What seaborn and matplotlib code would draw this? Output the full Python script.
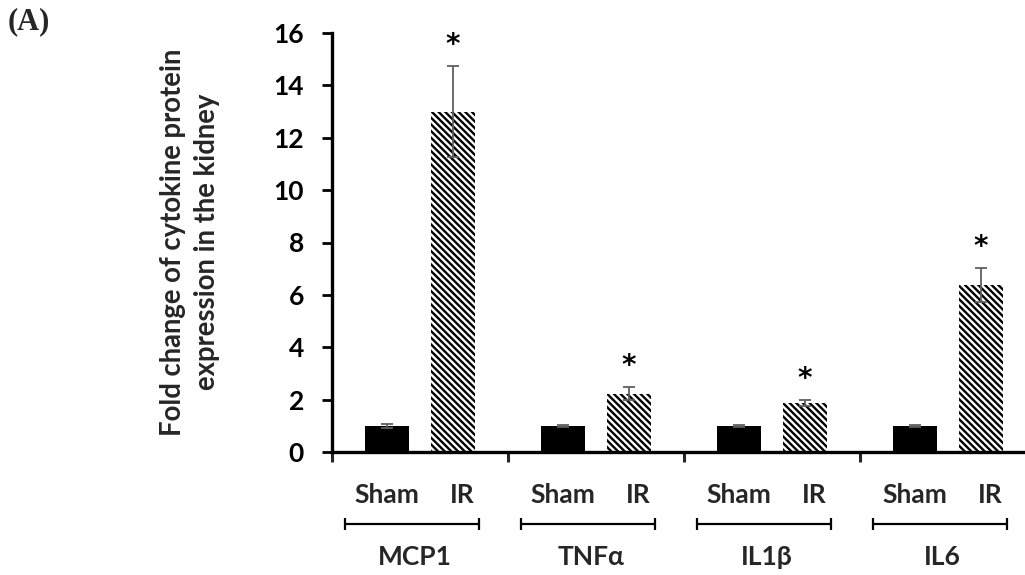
import matplotlib
matplotlib.use("Agg")
import matplotlib.pyplot as plt
import matplotlib.transforms as mtransforms
import numpy as np
import pandas as pd
import seaborn as sns

# ---- data ----
cytokines = ["MCP1", "TNFα", "IL1β", "IL6"]
groups = ["Sham", "IR"]
sham_mean = [1.0, 1.0, 1.0, 1.0]
sham_sem = [0.07, 0.03, 0.03, 0.05]
ir_mean = [13.0, 2.22, 1.86, 6.38]
ir_sem = [1.75, 0.25, 0.12, 0.65]
significant = [True, True, True, True]
y_ticks = [0, 2, 4, 6, 8, 10, 12, 14, 16]
y_label = "Fold change of cytokine protein\nexpression in the kidney"
panel_label = "(A)"

df = pd.DataFrame({
    "cytokine": cytokines * 2,
    "group": ["Sham"] * 4 + ["IR"] * 4,
    "value": sham_mean + ir_mean,
    "sem": sham_sem + ir_sem,
})

sns.set_style("white")
plt.rcParams["font.family"] = ["Lato", "DejaVu Sans"]
plt.rcParams["font.weight"] = "bold"
plt.rcParams["hatch.linewidth"] = 1.7

fig = plt.figure(figsize=(10.25, 5.75), dpi=100)
W, H = 1025, 575
ax = fig.add_axes([332 / W, (H - 452) / H, 704 / W, (452 - 33) / H])

sns.barplot(data=df, x="cytokine", y="value", hue="group", hue_order=groups,
            order=cytokines, palette={"Sham": "black", "IR": "white"},
            width=0.75, gap=1 / 3, errorbar=None, legend=False,
            saturation=1, ax=ax, linewidth=0)

bars = ax.patches
n = len(cytokines)
for i, bar in enumerate(bars[:2 * n]):
    if i >= n:
        bar.set_hatch("\\" * 5)
        bar.set_edgecolor("black")
        bar.set_linewidth(0)

# error bars + asterisks
for i, bar in enumerate(bars[:2 * n]):
    xc = bar.get_x() + bar.get_width() / 2
    yv = bar.get_height()
    err = df["sem"].iloc[i]
    ax.errorbar(xc, yv, yerr=err, fmt="none", ecolor="#5f5f5f",
                elinewidth=1.3, capsize=4.5, capthick=1.3, zorder=5)
    if i >= n and significant[i - n]:
        ax.annotate("*", xy=(xc, yv + err), xytext=(0, 5),
                    textcoords="offset points", ha="center", va="bottom",
                    fontsize=20, fontweight="bold", color="black",
                    family="DejaVu Sans")

ax.set_xlim(-0.5, 3.5)
ax.set_ylim(0, 16)
ax.set_yticks(y_ticks)
ax.set_yticklabels([str(t) for t in y_ticks], fontsize=19, fontweight="bold")
ax.set_xticks([-0.5, 0.5, 1.5, 2.5, 3.5])
ax.set_xticklabels([])
ax.set_xlabel("")
ax.set_ylabel("")
ax.tick_params(axis="y", direction="out", length=7.2, width=2, pad=13,
               left=True, colors="black")
ax.tick_params(axis="x", direction="out", length=7.2, width=2.2,
               bottom=True)
for s in ["top", "right"]:
    ax.spines[s].set_visible(False)
for s in ["left", "bottom"]:
    ax.spines[s].set_linewidth(2.4)
    ax.spines[s].set_color("black")

# category labels below axis
blend = mtransforms.blended_transform_factory(ax.transData, fig.transFigure)
for g in range(n):
    ax.text(g - 0.19, (H - 495) / H, "Sham", transform=blend, ha="center",
            va="center", fontsize=19, fontweight="bold")
    ax.text(g + 0.24, (H - 495) / H, "IR", transform=blend, ha="center",
            va="center", fontsize=19, fontweight="bold")
    ax.plot([g - 0.426, g + 0.335], [(H - 524) / H] * 2, transform=blend,
            color="black", lw=1.6, marker="|", ms=8, mew=1.6, clip_on=False)
    ax.text(g - 0.03, (H - 557) / H, cytokines[g], transform=blend,
            ha="center", va="center", fontsize=19, fontweight="bold")

fig.text(190 / W, (H - 242) / H, y_label, rotation=90, ha="center",
         va="center", multialignment="center", fontsize=19.8,
         fontweight="bold", linespacing=1.35)
fig.text(8 / W, (H - 22) / H, panel_label, ha="left", va="center",
         fontsize=22, fontweight="bold", family="Liberation Serif")

fig.savefig("out.png", dpi=100)
